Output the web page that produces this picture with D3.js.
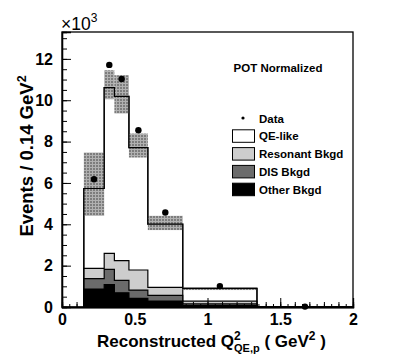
<!DOCTYPE html>
<html>
<head>
<meta charset="utf-8">
<script src="https://cdn.jsdelivr.net/npm/d3@7"></script>
<style>
  body { margin: 0; background: #fff; }
  svg text { font-family: "Liberation Sans", Arial, sans-serif; font-weight: bold; }
</style>
</head>
<body>
<svg id="chart" width="415" height="363"></svg>
<script>
// bin edges in GeV^2, values in thousands of events / 0.14 GeV^2
var binEdges = [0.15, 0.29, 0.36, 0.46, 0.59, 0.83, 1.34, 2.0];
var dataPoints = [6.18, 11.71, 11.03, 8.55, 4.57, 1.01, 0.02];
var mcTotal = [5.73, 10.61, 10.19, 7.71, 4.01, 0.90, 0];
var bandLow = [4.41, 10.05, 9.36, 7.23, 3.72, 0.82, 0];
var bandHigh = [7.47, 11.45, 11.21, 8.39, 4.41, 0.95, 0];
var resBkgd = [0.50, 0.77, 0.95, 0.97, 0.39, 0.13, 0];
var disBkgd = [0.50, 0.74, 0.60, 0.40, 0.27, 0.08, 0];
var otherBkgd = [0.87, 1.08, 0.69, 0.42, 0.29, 0.07, 0];
var xTickLabels = [0, 0.5, 1, 1.5, 2];
var yTickLabels = [0, 2, 4, 6, 8, 10, 12];
var legendItems = ['QE-like', 'Resonant Bkgd', 'DIS Bkgd', 'Other Bkgd'];
var legendFills = ['#ffffff', '#cdcdcd', '#6b6b6b', '#000000'];

var svg = d3.select('#chart');
var x = d3.scaleLinear().domain([0, 2]).range([62, 353]);
var y = d3.scaleLinear().domain([0, 13.3]).range([307, 32]);

// hatched pattern for the systematic band
var pat = svg.append('defs').append('pattern')
  .attr('id', 'band')
  .attr('width', 3).attr('height', 3)
  .attr('patternUnits', 'userSpaceOnUse');
pat.append('rect').attr('width', 3).attr('height', 3).attr('fill', '#a8a8a8');
pat.append('rect').attr('width', 2).attr('height', 2).attr('fill', '#6e6e6e');

function stepPoints(vals) {
  var pts = [[binEdges[0], 0]];
  vals.forEach(function(v, i) {
    pts.push([binEdges[i], v]);
    pts.push([binEdges[i + 1], v]);
  });
  pts.push([binEdges[binEdges.length - 1], 0]);
  return pts;
}

var line = d3.line()
  .x(function(d) { return x(d[0]); })
  .y(function(d) { return y(d[1]); });

// cumulative stack tops, drawn biggest first
var cumOther = otherBkgd.slice();
var cumDis = disBkgd.map(function(v, i) { return v + cumOther[i]; });
var cumRes = resBkgd.map(function(v, i) { return v + cumDis[i]; });
var layers = [mcTotal, cumRes, cumDis, cumOther];

var histLayer = svg.append('g');
layers.forEach(function(vals, i) {
  histLayer.append('path')
    .attr('d', line(stepPoints(vals)) + 'Z')
    .attr('fill', legendFills[i])
    .attr('stroke', '#000')
    .attr('stroke-width', 1.2);
});

// systematic band
svg.append('g').selectAll('rect')
  .data(bandHigh)
  .enter().append('rect')
  .attr('x', function(d, i) { return x(binEdges[i]); })
  .attr('width', function(d, i) { return x(binEdges[i + 1]) - x(binEdges[i]); })
  .attr('y', function(d) { return y(d); })
  .attr('height', function(d, i) { return y(bandLow[i]) - y(d); })
  .attr('fill', 'url(#band)')
  .attr('opacity', 0.9);

// total outline over the band
svg.append('path')
  .attr('d', line(stepPoints(mcTotal)))
  .attr('fill', 'none')
  .attr('stroke', '#000')
  .attr('stroke-width', 1.2);

// data markers
svg.append('g').selectAll('circle')
  .data(dataPoints)
  .enter().append('circle')
  .attr('cx', function(d, i) { return x((binEdges[i] + binEdges[i + 1]) / 2); })
  .attr('cy', function(d) { return y(d); })
  .attr('r', 3.2)
  .attr('fill', '#000');

// frame
svg.append('rect')
  .attr('x', x(0)).attr('y', y.range()[1])
  .attr('width', x(2) - x(0)).attr('height', y(0) - y.range()[1])
  .attr('fill', 'none').attr('stroke', '#000').attr('stroke-width', 1.3);

// axes
function minorTicks(lo, hi, step) {
  return d3.range(lo, hi + step / 2, step);
}

var xAxis = svg.append('g').attr('transform', 'translate(0,' + y(0) + ')');
xAxis.call(d3.axisBottom(x).tickValues(minorTicks(0, 2, 0.05)).tickSize(-3).tickFormat(''));
xAxis.append('g').call(d3.axisBottom(x).tickValues(minorTicks(0, 2, 0.1)).tickSize(-5).tickFormat(''));
xAxis.append('g').call(d3.axisBottom(x).tickValues(xTickLabels).tickSize(-9).tickPadding(7)
  .tickFormat(d3.format('')));

var yAxis = svg.append('g').attr('transform', 'translate(' + x(0) + ',0)');
yAxis.call(d3.axisLeft(y).tickValues(minorTicks(0, 13, 0.5)).tickSize(-5).tickFormat(''));
yAxis.append('g').call(d3.axisLeft(y).tickValues(yTickLabels).tickSize(-9).tickPadding(9)
  .tickFormat(d3.format('')));

svg.selectAll('.domain').attr('stroke-width', 1.3);
svg.selectAll('.tick text').attr('font-size', 16).attr('fill', '#000');

// exponent label
var expo = svg.append('text').attr('x', 61).attr('y', 30).attr('font-size', 17.5);
expo.append('tspan').text('\u00d710').style('font-weight', 'normal');
expo.append('tspan').text('3').attr('font-size', 12).attr('dy', -8).style('font-weight', 'normal');

// axis titles
var yTitle = svg.append('text')
  .attr('transform', 'translate(33,156) rotate(-90)')
  .attr('text-anchor', 'middle')
  .attr('font-size', 18.5);
yTitle.append('tspan').text('Events / 0.14 GeV');
yTitle.append('tspan').text('2').attr('font-size', 12.5).attr('dy', -7);

var xTitle = svg.append('text').attr('x', 97).attr('y', 347).attr('font-size', 17);
xTitle.append('tspan').text('Reconstructed Q');
xTitle.append('tspan').text('QE,p').attr('font-size', 11).attr('dy', 5);
xTitle.append('tspan').text(' ( GeV').attr('dy', -5);
xTitle.append('tspan').text('2').attr('font-size', 12).attr('dy', -7);
xTitle.append('tspan').text(' )').attr('dy', 7);

// superscript 2 of Q, stacked above the subscript
var subTspan = xTitle.selectAll('tspan').nodes()[1];
svg.append('text')
  .attr('x', subTspan.getStartPositionOfChar(0).x)
  .attr('y', 340)
  .attr('font-size', 12)
  .text('2');

// legend
svg.append('text')
  .attr('x', 278).attr('y', 72)
  .attr('text-anchor', 'middle')
  .attr('font-size', 11.5)
  .text('POT Normalized');

var legend = svg.append('g').attr('transform', 'translate(232,118)');
legend.append('circle').attr('cx', 11).attr('cy', 0).attr('r', 1.6).attr('fill', '#000');
legend.append('text').attr('x', 27).attr('y', 4.5).attr('font-size', 11.5).text('Data');
legendItems.forEach(function(name, i) {
  var yy = 17.8 * (i + 1);
  legend.append('rect')
    .attr('x', 0.5).attr('y', yy - 6)
    .attr('width', 22).attr('height', 12.5)
    .attr('fill', legendFills[i])
    .attr('stroke', '#000').attr('stroke-width', 1);
  legend.append('text').attr('x', 27).attr('y', yy + 4.5).attr('font-size', 11.5).text(name);
});
</script>
</body>
</html>
